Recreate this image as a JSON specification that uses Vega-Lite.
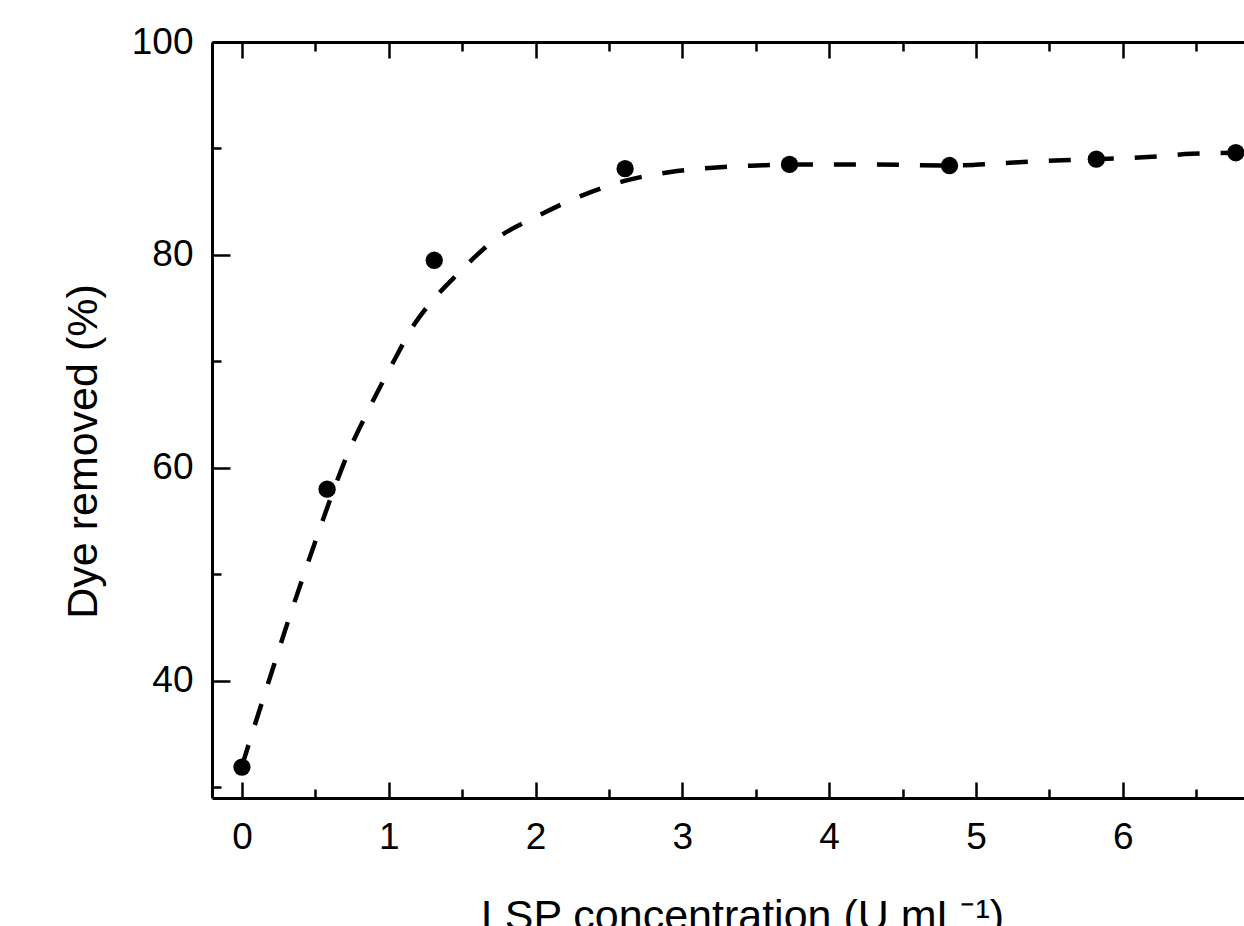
{
  "$schema": "https://vega.github.io/schema/vega-lite/v6.json",
  "width": 1032,
  "height": 756,
  "autosize": {"type": "none"},
  "padding": {"left": 212, "top": 42, "right": 0, "bottom": 128},
  "background": "white",
  "config": {
    "view": {"stroke": null},
    "font": "Liberation Sans",
    "axis": {
      "grid": false,
      "domainColor": "black",
      "domainWidth": 3,
      "tickColor": "black",
      "tickWidth": 2.5,
      "labelFont": "Liberation Sans",
      "labelColor": "black",
      "labelFontSize": 37,
      "titleFont": "Liberation Sans",
      "titleColor": "black",
      "titleFontSize": 43,
      "titleFontWeight": "normal"
    }
  },
  "datasets": {
    "curve": [
      {"conc": 0.0, "removed": 32.0},
      {"conc": 0.1, "removed": 36.4},
      {"conc": 0.2, "removed": 40.7},
      {"conc": 0.3, "removed": 45.0},
      {"conc": 0.4, "removed": 49.1},
      {"conc": 0.5, "removed": 53.1},
      {"conc": 0.6, "removed": 57.0},
      {"conc": 0.72, "removed": 61.3},
      {"conc": 0.86, "removed": 65.4},
      {"conc": 1.01, "removed": 69.4},
      {"conc": 1.18, "removed": 73.6},
      {"conc": 1.31, "removed": 75.9},
      {"conc": 1.44, "removed": 77.8},
      {"conc": 1.72, "removed": 81.4},
      {"conc": 2.02, "removed": 83.7},
      {"conc": 2.32, "removed": 85.6},
      {"conc": 2.62, "removed": 87.0},
      {"conc": 2.92, "removed": 87.8},
      {"conc": 3.21, "removed": 88.2},
      {"conc": 3.51, "removed": 88.4},
      {"conc": 3.73, "removed": 88.5},
      {"conc": 4.27, "removed": 88.5},
      {"conc": 4.82, "removed": 88.4},
      {"conc": 5.29, "removed": 88.7},
      {"conc": 5.59, "removed": 88.9},
      {"conc": 5.82, "removed": 89.0},
      {"conc": 6.17, "removed": 89.2},
      {"conc": 6.47, "removed": 89.5},
      {"conc": 6.77, "removed": 89.6}
    ],
    "obs": [
      {"conc": 0.0, "removed": 31.9},
      {"conc": 0.58, "removed": 58.0},
      {"conc": 1.31, "removed": 79.5},
      {"conc": 2.61, "removed": 88.1},
      {"conc": 3.73, "removed": 88.5},
      {"conc": 4.82, "removed": 88.4},
      {"conc": 5.82, "removed": 89.0},
      {"conc": 6.77, "removed": 89.6}
    ]
  },
  "resolve": {"axis": {"x": "independent", "y": "independent"}},
  "layer": [
    {
      "data": {"name": "curve"},
      "mark": {"type": "line", "color": "black", "strokeWidth": 4.5, "strokeDash": [22, 21], "interpolate": "monotone"},
      "encoding": {
        "x": {
          "field": "conc", "type": "quantitative",
          "scale": {"domain": [-0.204, 6.826], "nice": false, "zero": false},
          "axis": {
            "orient": "bottom",
            "title": "LSP concentration (U mL⁻¹)",
            "values": [0, 1, 2, 3, 4, 5, 6],
            "format": "d",
            "ticks": false,
            "labelPadding": 50,
            "labelBaseline": "alphabetic",
            "labelFlush": false,
            "labelOverlap": false,
            "titleX": 530,
            "titleY": 131,
            "titleBaseline": "alphabetic",
            "titleAnchor": null,
            "titleAlign": "center"
          }
        },
        "y": {
          "field": "removed", "type": "quantitative",
          "scale": {"domain": [29, 100], "nice": false, "zero": false},
          "axis": {
            "orient": "left",
            "title": "Dye removed (%)",
            "values": [40, 60, 80, 100],
            "format": "d",
            "ticks": false,
            "labelPadding": 19,
            "labelBaseline": "middle",
            "labelFlush": false,
            "labelOverlap": false,
            "titleX": -116,
            "titleY": 409,
            "titleAngle": -90,
            "titleBaseline": "alphabetic",
            "titleAlign": "center",
            "titleAnchor": null
          }
        }
      }
    },
    {
      "data": {"name": "obs"},
      "mark": {"type": "point", "filled": true, "color": "black", "opacity": 1, "size": 300},
      "encoding": {
        "x": {
          "field": "conc", "type": "quantitative",
          "scale": {"domain": [-0.204, 6.826], "nice": false, "zero": false},
          "axis": {
            "orient": "top",
            "offset": -756,
            "title": null,
            "values": [0, 1, 2, 3, 4, 5, 6],
            "labels": false,
            "domain": false,
            "tickSize": 16
          }
        },
        "y": {
          "field": "removed", "type": "quantitative",
          "scale": {"domain": [29, 100], "nice": false, "zero": false},
          "axis": {
            "orient": "right",
            "offset": -1032,
            "title": null,
            "values": [40, 60, 80, 100],
            "labels": false,
            "domain": false,
            "tickSize": 18
          }
        }
      }
    },
    {
      "data": {"name": "obs"},
      "mark": {"type": "point", "opacity": 0},
      "encoding": {
        "x": {
          "field": "conc", "type": "quantitative",
          "scale": {"domain": [-0.204, 6.826], "nice": false, "zero": false},
          "axis": {
            "orient": "top",
            "offset": -756,
            "title": null,
            "values": [0.5, 1.5, 2.5, 3.5, 4.5, 5.5, 6.5],
            "labels": false,
            "domain": false,
            "tickSize": 9
          }
        },
        "y": {
          "field": "removed", "type": "quantitative",
          "scale": {"domain": [29, 100], "nice": false, "zero": false},
          "axis": {
            "orient": "right",
            "offset": -1032,
            "title": null,
            "values": [30, 50, 70, 90],
            "labels": false,
            "domain": false,
            "tickSize": 9
          }
        }
      }
    },
    {
      "data": {"name": "obs"},
      "mark": {"type": "point", "opacity": 0},
      "encoding": {
        "x": {
          "field": "conc", "type": "quantitative",
          "scale": {"domain": [-0.204, 6.826], "nice": false, "zero": false},
          "axis": {
            "orient": "bottom",
            "offset": -756,
            "title": null,
            "values": [0, 1, 2, 3, 4, 5, 6],
            "labels": false,
            "domain": true,
            "tickSize": 16
          }
        },
        "y": {
          "field": "removed", "type": "quantitative",
          "scale": {"domain": [29, 100], "nice": false, "zero": false},
          "axis": null
        }
      }
    },
    {
      "data": {"name": "obs"},
      "mark": {"type": "point", "opacity": 0},
      "encoding": {
        "x": {
          "field": "conc", "type": "quantitative",
          "scale": {"domain": [-0.204, 6.826], "nice": false, "zero": false},
          "axis": {
            "orient": "bottom",
            "offset": -756,
            "title": null,
            "values": [0.5, 1.5, 2.5, 3.5, 4.5, 5.5, 6.5],
            "labels": false,
            "domain": false,
            "tickSize": 9
          }
        },
        "y": {
          "field": "removed", "type": "quantitative",
          "scale": {"domain": [29, 100], "nice": false, "zero": false},
          "axis": null
        }
      }
    }
  ]
}
